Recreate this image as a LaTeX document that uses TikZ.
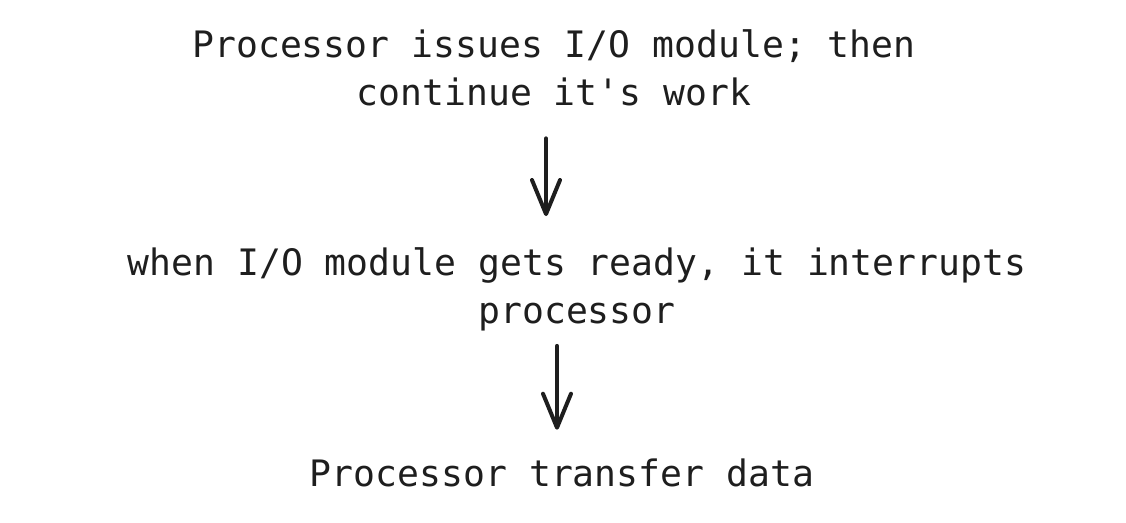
\documentclass[tikz,border=0pt]{standalone}
\usepackage{fontspec}
\setmonofont{DejaVu Sans Mono}
\usetikzlibrary{arrows.meta}
\definecolor{ink}{HTML}{1E1E1E}
\tikzset{
  lbl/.style={font=\ttfamily\fontsize{36.4}{48}\selectfont, align=center, inner sep=0pt, text=ink},
  arr/.style={line width=4pt, line cap=round, draw=ink, -{Straight Barb[length=34pt,width=28pt,line cap=round,line join=round]}}
}
\begin{document}
\begin{tikzpicture}[x=1pt,y=1pt]
\useasboundingbox (0,0) rectangle (1126,522);
\node[lbl] (n1) at (554,454) {Processor issues I/O module; then\\continue it's work};
\node[lbl] (n2) at (577,233) {when I/O module gets ready, it interrupts\\processor};
\node[lbl] (n3) at (562,49) {Processor transfer data};
\coordinate (a1) at (546,0);
\coordinate (a2) at (557,0);
\draw[arr, shorten <=32pt, shorten >=31pt] (n1.south -| a1) -- (n2.north -| a1);
\draw[arr, shorten <=15pt, shorten >=29pt] (n2.south -| a2) -- (n3.north -| a2);
\end{tikzpicture}
\end{document}
